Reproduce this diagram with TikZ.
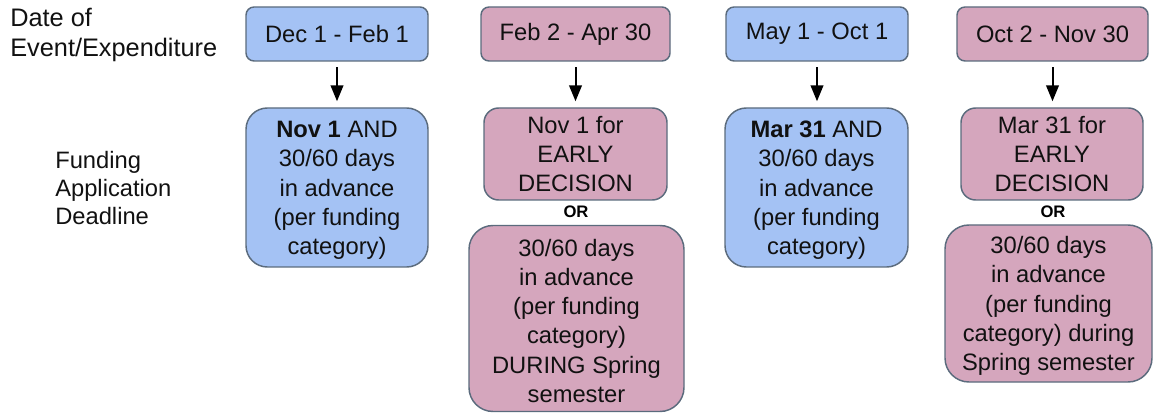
\documentclass[tikz,border=0pt]{standalone}
\usepackage{fontspec}
\setmainfont{Liberation Sans}
\usetikzlibrary{arrows.meta}
\definecolor{boxblue}{HTML}{A4C2F4}
\definecolor{boxpink}{HTML}{D5A6BD}
\definecolor{boxedge}{HTML}{5B6B7D}
\definecolor{ink}{HTML}{111111}
\newcommand{\topstrut}{\rule{0pt}{16.5pt}}
\begin{document}
\begin{tikzpicture}[x=0.75pt,y=-0.75pt,
  sz/.style 2 args={minimum width=#1*0.75pt, minimum height=#2*0.75pt},
  box/.style={draw=boxedge, line width=1.1pt, inner sep=0pt, align=center, text=ink,
    font=\fontsize{17.8}{21.9}\selectfont},
  bluebox/.style={box, fill=boxblue},
  pinkbox/.style={box, fill=boxpink},
  label/.style={inner sep=0pt, align=left, text=ink},
  ortext/.style={inner sep=0pt, text=black, font=\bfseries\fontsize{12.5}{14}\selectfont},
  arr/.style={draw=black, line width=1.5pt, -{Triangle[width=9.5pt,length=12pt]},
    shorten <=4pt, shorten >=4.5pt}
]
\useasboundingbox (0,0) rectangle (1153,413);

% left labels
\node[label, anchor=west, font=\fontsize{19}{22.5}\selectfont] (lab1) at (10,35) {Date of\\Event/Expenditure};
\node[label, anchor=west, font=\fontsize{17.8}{21.2}\selectfont] (lab2) at (55,188) {Funding\\Application\\Deadline};

% top boxes
\node[bluebox, sz={182}{54}, rounded corners=6pt] (t1) at (337,34) {Dec 1 - Feb 1};
\node[pinkbox, sz={189}{54}, rounded corners=6pt] (t2) at (575.5,34) {Feb 2 - Apr 30};
\node[bluebox, sz={182}{54}, rounded corners=6pt] (t3) at (817,34) {May 1 - Oct 1};
\node[pinkbox, sz={191}{54}, rounded corners=6pt] (t4) at (1052.5,34) {Oct 2 - Nov 30};

% lower boxes
\node[bluebox, sz={182}{159}, rounded corners=16pt] (b1) at (337,187.5)
  {\topstrut\textbf{Nov 1} AND\\30/60 days\\in advance\\(per funding\\category)};
\node[pinkbox, sz={183}{92}, rounded corners=11pt] (b2a) at (575.5,154)
  {Nov 1 for\\EARLY\\DECISION};
\node[pinkbox, sz={215}{186}, rounded corners=18pt] (b2b) at (576.5,318.5)
  {\topstrut 30/60 days\\in advance\\(per funding\\category)\\DURING Spring\\semester};
\node[bluebox, sz={183}{159}, rounded corners=16pt] (b3) at (816.5,187.5)
  {\topstrut\textbf{Mar 31} AND\\30/60 days\\in advance\\(per funding\\category)};
\node[pinkbox, sz={182}{92}, rounded corners=11pt] (b4a) at (1052,154)
  {Mar 31 for\\EARLY\\DECISION};
\node[pinkbox, sz={207}{157}, rounded corners=18pt] (b4b) at (1048.5,303.5)
  {\topstrut 30/60 days\\in advance\\(per funding\\category) during\\Spring semester};

% OR labels
\node[ortext] (or2) at (576,212) {OR};
\node[ortext] (or4) at (1053,212) {OR};

% arrows
\draw[arr] (t1.south) -- (t1.south |- b1.north);
\draw[arr] (t2.south) -- (t2.south |- b2a.north);
\draw[arr] (t3.south) -- (t3.south |- b3.north);
\draw[arr] (t4.south) -- (t4.south |- b4a.north);
\end{tikzpicture}
\end{document}
